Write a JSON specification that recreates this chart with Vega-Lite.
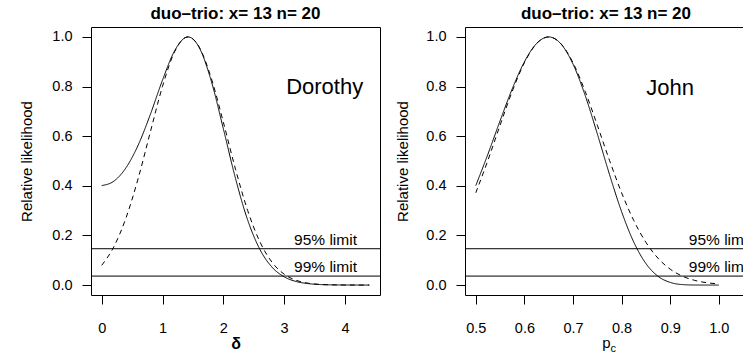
{
  "$schema": "https://vega.github.io/schema/vega-lite/v6.json",
  "padding": {"left": 19, "top": 4, "right": 0, "bottom": 0},
  "autosize": {"type": "pad"},
  "background": "white",
  "config": {
    "font": "Liberation Sans",
    "view": {"stroke": "black", "strokeWidth": 1},
    "axis": {"domain": false, "grid": false, "tickColor": "black", "tickSize": 9, "tickWidth": 1,
      "labelColor": "black", "titleColor": "black", "labelFontSize": 14.5, "titleFontSize": 15,
      "titleFontWeight": "normal", "labelFont": "Liberation Sans", "titleFont": "Liberation Sans"},
    "title": {"fontSize": 17, "fontWeight": "bold", "color": "black", "font": "Liberation Sans",
      "anchor": "middle", "frame": "group", "baseline": "alphabetic", "offset": 4},
    "concat": {"spacing": 14}
  },
  "datasets": {
    "dorothy": [
      {"delta": 0.0, "rl": 0.4009, "method": "exact"},
      {"delta": 0.2, "rl": 0.4187, "method": "exact"},
      {"delta": 0.4, "rl": 0.4729, "method": "exact"},
      {"delta": 0.6, "rl": 0.5641, "method": "exact"},
      {"delta": 0.8, "rl": 0.6878, "method": "exact"},
      {"delta": 1.0, "rl": 0.8261, "method": "exact"},
      {"delta": 1.2, "rl": 0.9446, "method": "exact"},
      {"delta": 1.4, "rl": 0.9995, "method": "exact"},
      {"delta": 1.4206, "rl": 1.0, "method": "exact"},
      {"delta": 1.6, "rl": 0.9588, "method": "exact"},
      {"delta": 1.8, "rl": 0.8237, "method": "exact"},
      {"delta": 2.0, "rl": 0.6302, "method": "exact"},
      {"delta": 2.2, "rl": 0.4296, "method": "exact"},
      {"delta": 2.4, "rl": 0.2622, "method": "exact"},
      {"delta": 2.6, "rl": 0.1443, "method": "exact"},
      {"delta": 2.8, "rl": 0.0723, "method": "exact"},
      {"delta": 3.0, "rl": 0.0333, "method": "exact"},
      {"delta": 3.2, "rl": 0.0142, "method": "exact"},
      {"delta": 3.4, "rl": 0.0057, "method": "exact"},
      {"delta": 3.6, "rl": 0.0020, "method": "exact"},
      {"delta": 3.8, "rl": 0.0008, "method": "exact"},
      {"delta": 4.0, "rl": 0.0003, "method": "exact"},
      {"delta": 4.2, "rl": 0.0001, "method": "exact"},
      {"delta": 4.4, "rl": 0.0000, "method": "exact"},
      {"delta": 0.0, "rl": 0.0797, "method": "approx"},
      {"delta": 0.2, "rl": 0.1545, "method": "approx"},
      {"delta": 0.4, "rl": 0.2710, "method": "approx"},
      {"delta": 0.6, "rl": 0.4300, "method": "approx"},
      {"delta": 0.8, "rl": 0.6171, "method": "approx"},
      {"delta": 1.0, "rl": 0.8011, "method": "approx"},
      {"delta": 1.2, "rl": 0.9408, "method": "approx"},
      {"delta": 1.4, "rl": 0.9995, "method": "approx"},
      {"delta": 1.4206, "rl": 1.0, "method": "approx"},
      {"delta": 1.6, "rl": 0.9605, "method": "approx"},
      {"delta": 1.8, "rl": 0.8349, "method": "approx"},
      {"delta": 2.0, "rl": 0.6565, "method": "approx"},
      {"delta": 2.2, "rl": 0.4670, "method": "approx"},
      {"delta": 2.4, "rl": 0.3005, "method": "approx"},
      {"delta": 2.6, "rl": 0.1749, "method": "approx"},
      {"delta": 2.8, "rl": 0.0921, "method": "approx"},
      {"delta": 3.0, "rl": 0.0439, "method": "approx"},
      {"delta": 3.2, "rl": 0.0189, "method": "approx"},
      {"delta": 3.4, "rl": 0.0074, "method": "approx"},
      {"delta": 3.6, "rl": 0.0026, "method": "approx"},
      {"delta": 3.8, "rl": 0.0008, "method": "approx"},
      {"delta": 4.0, "rl": 0.0002, "method": "approx"},
      {"delta": 4.2, "rl": 0.0001, "method": "approx"},
      {"delta": 4.4, "rl": 0.0000, "method": "approx"}
    ],
    "john": [
      {"pc": 0.5, "rl": 0.4009, "method": "exact"},
      {"pc": 0.525, "rl": 0.5279, "method": "exact"},
      {"pc": 0.55, "rl": 0.6620, "method": "exact"},
      {"pc": 0.575, "rl": 0.7908, "method": "exact"},
      {"pc": 0.6, "rl": 0.8996, "method": "exact"},
      {"pc": 0.625, "rl": 0.9734, "method": "exact"},
      {"pc": 0.65, "rl": 1.0, "method": "exact"},
      {"pc": 0.675, "rl": 0.9723, "method": "exact"},
      {"pc": 0.7, "rl": 0.8908, "method": "exact"},
      {"pc": 0.725, "rl": 0.7645, "method": "exact"},
      {"pc": 0.75, "rl": 0.6096, "method": "exact"},
      {"pc": 0.775, "rl": 0.4465, "method": "exact"},
      {"pc": 0.8, "rl": 0.2958, "method": "exact"},
      {"pc": 0.825, "rl": 0.1733, "method": "exact"},
      {"pc": 0.85, "rl": 0.0868, "method": "exact"},
      {"pc": 0.875, "rl": 0.0353, "method": "exact"},
      {"pc": 0.9, "rl": 0.0107, "method": "exact"},
      {"pc": 0.925, "rl": 0.0020, "method": "exact"},
      {"pc": 0.95, "rl": 0.0002, "method": "exact"},
      {"pc": 0.975, "rl": 0.0000, "method": "exact"},
      {"pc": 1.0, "rl": 0.0, "method": "exact"},
      {"pc": 0.5, "rl": 0.3719, "method": "approx"},
      {"pc": 0.525, "rl": 0.5032, "method": "approx"},
      {"pc": 0.55, "rl": 0.6443, "method": "approx"},
      {"pc": 0.575, "rl": 0.7809, "method": "approx"},
      {"pc": 0.6, "rl": 0.8959, "method": "approx"},
      {"pc": 0.625, "rl": 0.9729, "method": "approx"},
      {"pc": 0.65, "rl": 1.0, "method": "approx"},
      {"pc": 0.675, "rl": 0.9729, "method": "approx"},
      {"pc": 0.7, "rl": 0.8959, "method": "approx"},
      {"pc": 0.725, "rl": 0.7809, "method": "approx"},
      {"pc": 0.75, "rl": 0.6443, "method": "approx"},
      {"pc": 0.775, "rl": 0.5032, "method": "approx"},
      {"pc": 0.8, "rl": 0.3719, "method": "approx"},
      {"pc": 0.825, "rl": 0.2602, "method": "approx"},
      {"pc": 0.85, "rl": 0.1723, "method": "approx"},
      {"pc": 0.875, "rl": 0.1080, "method": "approx"},
      {"pc": 0.9, "rl": 0.0641, "method": "approx"},
      {"pc": 0.925, "rl": 0.0360, "method": "approx"},
      {"pc": 0.95, "rl": 0.0191, "method": "approx"},
      {"pc": 0.975, "rl": 0.0096, "method": "approx"},
      {"pc": 1.0, "rl": 0.0046, "method": "approx"}
    ],
    "limits": [
      {"level": 0.1465, "label": "95% limit"},
      {"level": 0.0362, "label": "99% limit"}
    ]
  },
  "hconcat": [
    {
      "width": 289,
      "height": 268,
      "title": {"text": "duo–trio: x= 13 n= 20"},
      "layer": [
        {
          "data": {"name": "dorothy"},
          "mark": {"type": "line", "color": "black", "strokeWidth": 1, "interpolate": "monotone"},
          "encoding": {
            "x": {"field": "delta", "type": "quantitative",
              "scale": {"domain": [-0.176, 4.576], "nice": false, "zero": false},
              "axis": {"values": [0, 1, 2, 3, 4], "format": "d", "title": "δ", "titleFontWeight": "bold",
                "titleFontSize": 16, "labelPadding": 17, "titlePadding": 1}},
            "y": {"field": "rl", "type": "quantitative",
              "scale": {"domain": [-0.04, 1.04], "nice": false, "zero": false},
              "axis": {"values": [0, 0.2, 0.4, 0.6, 0.8, 1.0], "format": ".1f", "title": "Relative likelihood",
                "labelPadding": 10, "titlePadding": 17}},
            "strokeDash": {"field": "method", "type": "nominal",
              "scale": {"domain": ["exact", "approx"], "range": [[1, 0], [5, 4]]}, "legend": null}
          }
        },
        {
          "data": {"name": "limits"},
          "mark": {"type": "rule", "color": "black", "strokeWidth": 1},
          "encoding": {"y": {"field": "level", "type": "quantitative", "title": "Relative likelihood"}}
        },
        {
          "data": {"name": "limits"},
          "mark": {"type": "text", "align": "center", "baseline": "alphabetic", "dy": -4, "fontSize": 15.5, "color": "black"},
          "encoding": {
            "x": {"datum": 3.68, "type": "quantitative"},
            "y": {"field": "level", "type": "quantitative", "title": "Relative likelihood"},
            "text": {"field": "label"}
          }
        },
        {
          "data": {"values": [{"who": "Dorothy"}]},
          "mark": {"type": "text", "align": "center", "baseline": "alphabetic", "fontSize": 22, "color": "black"},
          "encoding": {
            "x": {"datum": 3.666, "type": "quantitative"},
            "y": {"datum": 0.768, "type": "quantitative"},
            "text": {"field": "who"}
          }
        }
      ]
    },
    {
      "width": 282,
      "height": 268,
      "title": {"text": "duo–trio: x= 13 n= 20"},
      "layer": [
        {
          "data": {"name": "john"},
          "mark": {"type": "line", "color": "black", "strokeWidth": 1, "interpolate": "monotone"},
          "encoding": {
            "x": {"field": "pc", "type": "quantitative",
              "scale": {"domain": [0.4778, 1.058], "nice": false, "zero": false},
              "axis": {"values": [0.5, 0.6, 0.7, 0.8, 0.9, 1.0], "format": ".1f", "title": "p",
                "labelPadding": 17, "titlePadding": 1}},
            "y": {"field": "rl", "type": "quantitative",
              "scale": {"domain": [-0.04, 1.04], "nice": false, "zero": false},
              "axis": {"values": [0, 0.2, 0.4, 0.6, 0.8, 1.0], "format": ".1f", "title": "Relative likelihood",
                "labelPadding": 10, "titlePadding": 15}},
            "strokeDash": {"field": "method", "type": "nominal",
              "scale": {"domain": ["exact", "approx"], "range": [[1, 0], [5, 4]]}, "legend": null}
          }
        },
        {
          "data": {"name": "limits"},
          "mark": {"type": "rule", "color": "black", "strokeWidth": 1},
          "encoding": {"y": {"field": "level", "type": "quantitative", "title": "Relative likelihood"}}
        },
        {
          "data": {"name": "limits"},
          "mark": {"type": "text", "align": "center", "baseline": "alphabetic", "dy": -4, "fontSize": 15.5, "color": "black"},
          "encoding": {
            "x": {"datum": 1.003, "type": "quantitative"},
            "y": {"field": "level", "type": "quantitative", "title": "Relative likelihood"},
            "text": {"field": "label"}
          }
        },
        {
          "data": {"values": [{"who": "John"}]},
          "mark": {"type": "text", "align": "center", "baseline": "alphabetic", "fontSize": 22, "color": "black"},
          "encoding": {
            "x": {"datum": 0.9, "type": "quantitative"},
            "y": {"datum": 0.765, "type": "quantitative"},
            "text": {"field": "who"}
          }
        },
        {
          "data": {"values": [{"sub": "c"}]},
          "mark": {"type": "text", "align": "center", "baseline": "alphabetic", "fontSize": 11, "color": "black"},
          "encoding": {
            "x": {"datum": 0.783, "type": "quantitative"},
            "y": {"datum": -0.268, "type": "quantitative"},
            "text": {"field": "sub"}
          }
        }
      ]
    }
  ]
}
